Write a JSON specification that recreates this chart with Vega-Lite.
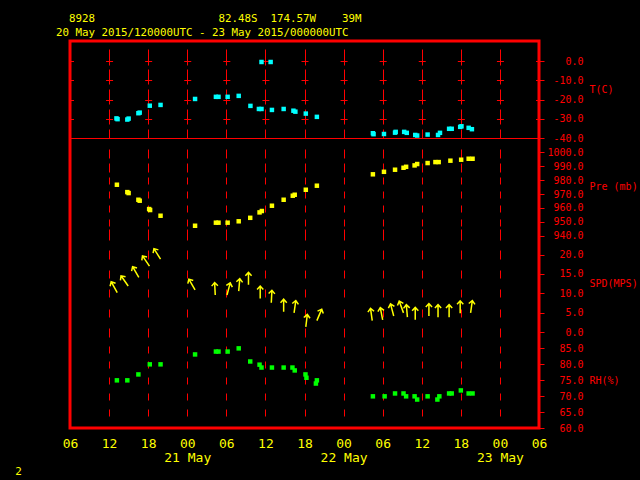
{
  "$schema": "https://vega.github.io/schema/vega-lite/v6.json",
  "width": 469,
  "height": 387,
  "autosize": "none",
  "padding": {"left": 70, "top": 41, "right": 101, "bottom": 52},
  "background": "#000000",
  "config": {
    "view": {"stroke": "#ff0000", "strokeWidth": 3, "fill": "#000000"},
    "axisY": {
      "labelColor": "#ff0000", "labelFont": "DejaVu Sans Mono", "labelFontSize": 10,
      "labelAlign": "right", "labelPadding": 39, "labelBaseline": "middle",
      "tickColor": "#ff0000", "tickSize": 5, "tickWidth": 1,
      "domain": false, "grid": true, "gridColor": "#ff0000", "gridWidth": 1, "gridDashOffset": 3.5,
      "titleAngle": 0, "titleX": 50, "titleAlign": "left", "titleBaseline": "middle",
      "titleColor": "#ff0000", "titleFont": "DejaVu Sans Mono", "titleFontSize": 10, "titleFontWeight": "normal",
      "labelOverlap": false, "labelBound": false
    },
    "axisX": {
      "labelColor": "#ffff00", "labelFont": "DejaVu Sans Mono", "labelFontSize": 13,
      "labelPadding": 9, "labelBaseline": "top", "labelLineHeight": 14.5,
      "ticks": false, "tickSize": 0, "domain": false, "grid": true, "gridColor": "#ff0000", "gridWidth": 1,
      "labelOverlap": false, "labelFlush": false, "labelBound": false,
      "titleColor": "#ffff00", "titleFont": "DejaVu Sans Mono", "titleFontSize": 11, "titleFontWeight": "normal"
    }
  },
  "title": {
    "text": ["\u200b\u00a0\u00a08928\u00a0\u00a0\u00a0\u00a0\u00a0\u00a0\u00a0\u00a0\u00a0\u00a0\u00a0\u00a0\u00a0\u00a0\u00a0\u00a0\u00a0\u00a0\u00a082.48S\u00a0\u00a0174.57W\u00a0\u00a0\u00a0\u00a039M", "20 May 2015/120000UTC - 23 May 2015/000000UTC"],
    "anchor": "start", "frame": "group", "dx": -14, "orient": "top", "offset": -7.5, "baseline": "bottom",
    "lineHeight": 13.4, "font": "DejaVu Sans Mono", "fontSize": 10.8, "fontWeight": "normal", "color": "#ffff00"
  },
  "datasets": {
    "temp": [
      {"t": "2015-05-20T13:08:00Z", "v": -29.7}, {"t": "2015-05-20T13:18:00Z", "v": -30.1},
      {"t": "2015-05-20T14:48:00Z", "v": -30.3}, {"t": "2015-05-20T15:00:00Z", "v": -29.8},
      {"t": "2015-05-20T16:30:00Z", "v": -27.0}, {"t": "2015-05-20T16:42:00Z", "v": -26.7},
      {"t": "2015-05-20T18:15:00Z", "v": -23.1}, {"t": "2015-05-20T19:54:00Z", "v": -22.7},
      {"t": "2015-05-21T01:12:00Z", "v": -19.6}, {"t": "2015-05-21T04:24:00Z", "v": -18.5},
      {"t": "2015-05-21T04:48:00Z", "v": -18.5}, {"t": "2015-05-21T06:12:00Z", "v": -18.5},
      {"t": "2015-05-21T07:54:00Z", "v": -18.0}, {"t": "2015-05-21T09:42:00Z", "v": -23.2},
      {"t": "2015-05-21T11:00:00Z", "v": -24.8}, {"t": "2015-05-21T11:24:00Z", "v": -24.8},
      {"t": "2015-05-21T11:24:00Z", "v": -0.4}, {"t": "2015-05-21T12:48:00Z", "v": -0.4},
      {"t": "2015-05-21T13:00:00Z", "v": -25.3}, {"t": "2015-05-21T14:48:00Z", "v": -24.8},
      {"t": "2015-05-21T16:18:00Z", "v": -25.7}, {"t": "2015-05-21T16:36:00Z", "v": -26.2},
      {"t": "2015-05-21T18:12:00Z", "v": -27.2}, {"t": "2015-05-21T19:54:00Z", "v": -28.9},
      {"t": "2015-05-22T04:30:00Z", "v": -37.4}, {"t": "2015-05-22T04:36:00Z", "v": -37.9},
      {"t": "2015-05-22T06:12:00Z", "v": -37.8}, {"t": "2015-05-22T07:54:00Z", "v": -37.1},
      {"t": "2015-05-22T08:00:00Z", "v": -36.7}, {"t": "2015-05-22T09:18:00Z", "v": -36.7},
      {"t": "2015-05-22T09:42:00Z", "v": -37.2}, {"t": "2015-05-22T11:00:00Z", "v": -38.3},
      {"t": "2015-05-22T11:18:00Z", "v": -38.6}, {"t": "2015-05-22T12:54:00Z", "v": -38.1},
      {"t": "2015-05-22T14:30:00Z", "v": -38.3}, {"t": "2015-05-22T14:48:00Z", "v": -37.2},
      {"t": "2015-05-22T16:12:00Z", "v": -35.1}, {"t": "2015-05-22T16:36:00Z", "v": -35.1},
      {"t": "2015-05-22T17:54:00Z", "v": -34.1}, {"t": "2015-05-22T18:06:00Z", "v": -33.8},
      {"t": "2015-05-22T19:12:00Z", "v": -34.6}, {"t": "2015-05-22T19:42:00Z", "v": -35.3}
    ],
    "pres": [
      {"t": "2015-05-20T13:12:00Z", "v": 976.7}, {"t": "2015-05-20T14:48:00Z", "v": 971.4},
      {"t": "2015-05-20T15:00:00Z", "v": 970.7}, {"t": "2015-05-20T16:30:00Z", "v": 965.9},
      {"t": "2015-05-20T16:42:00Z", "v": 965.2}, {"t": "2015-05-20T18:09:00Z", "v": 959.2},
      {"t": "2015-05-20T18:18:00Z", "v": 958.5}, {"t": "2015-05-20T19:54:00Z", "v": 954.4},
      {"t": "2015-05-21T01:12:00Z", "v": 947.2}, {"t": "2015-05-21T04:24:00Z", "v": 949.4},
      {"t": "2015-05-21T04:48:00Z", "v": 949.4}, {"t": "2015-05-21T06:12:00Z", "v": 949.4},
      {"t": "2015-05-21T07:54:00Z", "v": 950.4}, {"t": "2015-05-21T09:40:00Z", "v": 952.9},
      {"t": "2015-05-21T11:06:00Z", "v": 956.8}, {"t": "2015-05-21T11:27:00Z", "v": 957.8},
      {"t": "2015-05-21T13:00:00Z", "v": 961.6}, {"t": "2015-05-21T14:48:00Z", "v": 965.9},
      {"t": "2015-05-21T16:12:00Z", "v": 968.8}, {"t": "2015-05-21T16:30:00Z", "v": 969.5},
      {"t": "2015-05-21T18:12:00Z", "v": 973.1}, {"t": "2015-05-21T19:54:00Z", "v": 976.0},
      {"t": "2015-05-22T04:30:00Z", "v": 984.2}, {"t": "2015-05-22T06:12:00Z", "v": 986.0},
      {"t": "2015-05-22T07:54:00Z", "v": 987.5}, {"t": "2015-05-22T09:12:00Z", "v": 988.9},
      {"t": "2015-05-22T09:36:00Z", "v": 989.6}, {"t": "2015-05-22T10:54:00Z", "v": 990.6},
      {"t": "2015-05-22T11:18:00Z", "v": 991.6}, {"t": "2015-05-22T12:54:00Z", "v": 992.3},
      {"t": "2015-05-22T14:06:00Z", "v": 993.0}, {"t": "2015-05-22T14:36:00Z", "v": 993.0},
      {"t": "2015-05-22T16:24:00Z", "v": 994.0}, {"t": "2015-05-22T18:03:00Z", "v": 994.7},
      {"t": "2015-05-22T19:12:00Z", "v": 995.4}, {"t": "2015-05-22T19:48:00Z", "v": 995.4}
    ],
    "wind": [
      {"t": "2015-05-20T13:15:00Z", "v": 10.2, "dir": 331}, {"t": "2015-05-20T14:56:00Z", "v": 11.9, "dir": 325},
      {"t": "2015-05-20T16:34:00Z", "v": 14.1, "dir": 330}, {"t": "2015-05-20T18:12:00Z", "v": 17.0, "dir": 326},
      {"t": "2015-05-20T19:54:00Z", "v": 18.8, "dir": 328}, {"t": "2015-05-21T01:12:00Z", "v": 10.9, "dir": 330},
      {"t": "2015-05-21T04:18:00Z", "v": 9.6, "dir": 357}, {"t": "2015-05-21T06:06:00Z", "v": 9.6, "dir": 15},
      {"t": "2015-05-21T07:54:00Z", "v": 10.6, "dir": 5}, {"t": "2015-05-21T09:24:00Z", "v": 12.2, "dir": 0},
      {"t": "2015-05-21T11:12:00Z", "v": 8.7, "dir": 0}, {"t": "2015-05-21T12:54:00Z", "v": 7.6, "dir": 3},
      {"t": "2015-05-21T14:48:00Z", "v": 5.3, "dir": 0}, {"t": "2015-05-21T16:24:00Z", "v": 5.0, "dir": 8},
      {"t": "2015-05-21T18:12:00Z", "v": 1.4, "dir": 7}, {"t": "2015-05-21T19:54:00Z", "v": 3.0, "dir": 23},
      {"t": "2015-05-22T04:24:00Z", "v": 3.0, "dir": 352}, {"t": "2015-05-22T06:00:00Z", "v": 3.2, "dir": 349},
      {"t": "2015-05-22T07:42:00Z", "v": 4.2, "dir": 345}, {"t": "2015-05-22T09:12:00Z", "v": 5.0, "dir": 340},
      {"t": "2015-05-22T09:48:00Z", "v": 3.9, "dir": 355}, {"t": "2015-05-22T11:00:00Z", "v": 3.2, "dir": 0},
      {"t": "2015-05-22T13:06:00Z", "v": 4.2, "dir": 0}, {"t": "2015-05-22T14:30:00Z", "v": 3.9, "dir": 0},
      {"t": "2015-05-22T16:12:00Z", "v": 3.9, "dir": 0}, {"t": "2015-05-22T17:54:00Z", "v": 4.9, "dir": 0},
      {"t": "2015-05-22T19:30:00Z", "v": 5.0, "dir": 8}
    ],
    "rh": [
      {"t": "2015-05-20T13:12:00Z", "v": 74.9}, {"t": "2015-05-20T14:48:00Z", "v": 74.9},
      {"t": "2015-05-20T16:30:00Z", "v": 76.75}, {"t": "2015-05-20T18:15:00Z", "v": 79.9},
      {"t": "2015-05-20T19:54:00Z", "v": 79.9}, {"t": "2015-05-21T01:12:00Z", "v": 83.0},
      {"t": "2015-05-21T04:24:00Z", "v": 83.9}, {"t": "2015-05-21T04:48:00Z", "v": 83.9},
      {"t": "2015-05-21T06:12:00Z", "v": 83.9}, {"t": "2015-05-21T07:54:00Z", "v": 84.9},
      {"t": "2015-05-21T09:40:00Z", "v": 80.8}, {"t": "2015-05-21T11:06:00Z", "v": 79.8},
      {"t": "2015-05-21T11:24:00Z", "v": 78.9}, {"t": "2015-05-21T13:00:00Z", "v": 78.9},
      {"t": "2015-05-21T14:48:00Z", "v": 78.9}, {"t": "2015-05-21T16:09:00Z", "v": 78.9},
      {"t": "2015-05-21T16:30:00Z", "v": 78.0}, {"t": "2015-05-21T18:09:00Z", "v": 76.75},
      {"t": "2015-05-21T18:18:00Z", "v": 75.7}, {"t": "2015-05-21T19:54:00Z", "v": 74.9},
      {"t": "2015-05-21T19:45:00Z", "v": 73.9}, {"t": "2015-05-22T04:30:00Z", "v": 69.9},
      {"t": "2015-05-22T06:18:00Z", "v": 69.9}, {"t": "2015-05-22T07:54:00Z", "v": 70.8},
      {"t": "2015-05-22T09:12:00Z", "v": 70.8}, {"t": "2015-05-22T09:36:00Z", "v": 69.9},
      {"t": "2015-05-22T10:54:00Z", "v": 69.9}, {"t": "2015-05-22T11:18:00Z", "v": 68.9},
      {"t": "2015-05-22T12:54:00Z", "v": 69.9}, {"t": "2015-05-22T14:24:00Z", "v": 68.9},
      {"t": "2015-05-22T14:42:00Z", "v": 69.9}, {"t": "2015-05-22T16:12:00Z", "v": 70.8},
      {"t": "2015-05-22T16:36:00Z", "v": 70.8}, {"t": "2015-05-22T18:00:00Z", "v": 71.75},
      {"t": "2015-05-22T19:12:00Z", "v": 70.8}, {"t": "2015-05-22T19:48:00Z", "v": 70.8}
    ]
  },
  "encoding": {
    "x": {
      "field": "t", "type": "temporal",
      "scale": {"type": "utc", "domain": [
        {"year": 2015, "month": 5, "date": 20, "hours": 6, "utc": true},
        {"year": 2015, "month": 5, "date": 23, "hours": 6, "utc": true}]},
      "axis": {
        "orient": "bottom",
        "title": "2", "titleX": -52, "titleY": 43, "titleAlign": "center", "titleBaseline": "middle",
        "values": [
          {"year": 2015, "month": 5, "date": 20, "hours": 6, "utc": true},
          {"year": 2015, "month": 5, "date": 20, "hours": 12, "utc": true},
          {"year": 2015, "month": 5, "date": 20, "hours": 18, "utc": true},
          {"year": 2015, "month": 5, "date": 21, "hours": 0, "utc": true},
          {"year": 2015, "month": 5, "date": 21, "hours": 6, "utc": true},
          {"year": 2015, "month": 5, "date": 21, "hours": 12, "utc": true},
          {"year": 2015, "month": 5, "date": 21, "hours": 18, "utc": true},
          {"year": 2015, "month": 5, "date": 22, "hours": 0, "utc": true},
          {"year": 2015, "month": 5, "date": 22, "hours": 6, "utc": true},
          {"year": 2015, "month": 5, "date": 22, "hours": 12, "utc": true},
          {"year": 2015, "month": 5, "date": 22, "hours": 18, "utc": true},
          {"year": 2015, "month": 5, "date": 23, "hours": 0, "utc": true},
          {"year": 2015, "month": 5, "date": 23, "hours": 6, "utc": true}
        ],
        "labelExpr": "utcFormat(datum.value, '%H') == '00' ? [utcFormat(datum.value, '%H'), utcFormat(datum.value, '%d %b')] : utcFormat(datum.value, '%H')",
        "gridDash": [0, 8, 16, 4, 15, 5, 15, 5, 15, 5, 9, 11, 9, 5, 9, 5, 7, 7, 7, 7, 7, 7, 7, 3, 11, 10, 9, 11, 8, 11, 8, 12, 8, 11, 9, 9, 7, 8, 7, 9, 7, 9, 7, 9, 7, 25]
      }
    }
  },
  "layer": [
    {
      "data": {"name": "temp"},
      "mark": {"type": "square", "size": 20, "color": "#00ffff", "opacity": 1},
      "encoding": {
        "y": {"field": "v", "type": "quantitative", "scale": {"domain": [-190.5, 10.5], "nice": false, "zero": false},
          "axis": {"orient": "right", "values": [0, -10, -20, -30, -40], "title": "T(C)", "titleY": 48.5,
            "labelExpr": "replace(format(datum.value, '.1f'), '\u2212', '-')",
            "gridDash": {"condition": {"test": "datum.value === -40", "value": [1, 0]}, "value": [7, 32.083]}}}
      }
    },
    {
      "data": {"name": "pres"},
      "mark": {"type": "square", "size": 20, "color": "#ffff00", "opacity": 1},
      "encoding": {
        "y": {"field": "v", "type": "quantitative", "scale": {"domain": [801.7, 1080.1], "nice": false, "zero": false},
          "axis": {"orient": "right", "values": [1000, 990, 980, 970, 960, 950, 940], "title": "Pre (mb)", "titleY": 145.5,
            "labelExpr": "replace(format(datum.value, '.1f'), '\u2212', '-')",
            "gridDash": {"condition": {"test": "datum.value === 940", "value": [1, 0]}, "value": [7, 32.083]}}}
      }
    },
    {
      "data": {"name": "wind"},
      "mark": {"type": "point", "shape": "M0,0L0,-2M-0.5,-1.45L0,-2L0.5,-1.45", "size": 156, "filled": false,
        "stroke": "#ffff00", "strokeWidth": 1.5, "opacity": 1},
      "encoding": {
        "y": {"field": "v", "type": "quantitative", "scale": {"domain": [-24.6, 74.9], "nice": false, "zero": false},
          "axis": {"orient": "right", "values": [20, 15, 10, 5, 0], "title": "SPD(MPS)", "titleY": 242.5,
            "labelExpr": "replace(format(datum.value, '.1f'), '\u2212', '-')",
            "gridDash": {"condition": {"test": "datum.value === 0", "value": [1, 0]}, "value": [7, 32.083]}}},
        "angle": {"field": "dir", "type": "quantitative", "scale": null}
      }
    },
    {
      "data": {"name": "rh"},
      "mark": {"type": "square", "size": 20, "color": "#00ff00", "opacity": 1},
      "encoding": {
        "y": {"field": "v", "type": "quantitative", "scale": {"domain": [60, 181], "nice": false, "zero": false},
          "axis": {"orient": "right", "values": [85, 80, 75, 70, 65, 60], "title": "RH(%)", "titleY": 339.5,
            "labelExpr": "replace(format(datum.value, '.1f'), '\u2212', '-')",
            "gridDash": [7, 32.083]}}
      }
    }
  ],
  "resolve": {"scale": {"y": "independent"}, "axis": {"y": "independent"}}
}
